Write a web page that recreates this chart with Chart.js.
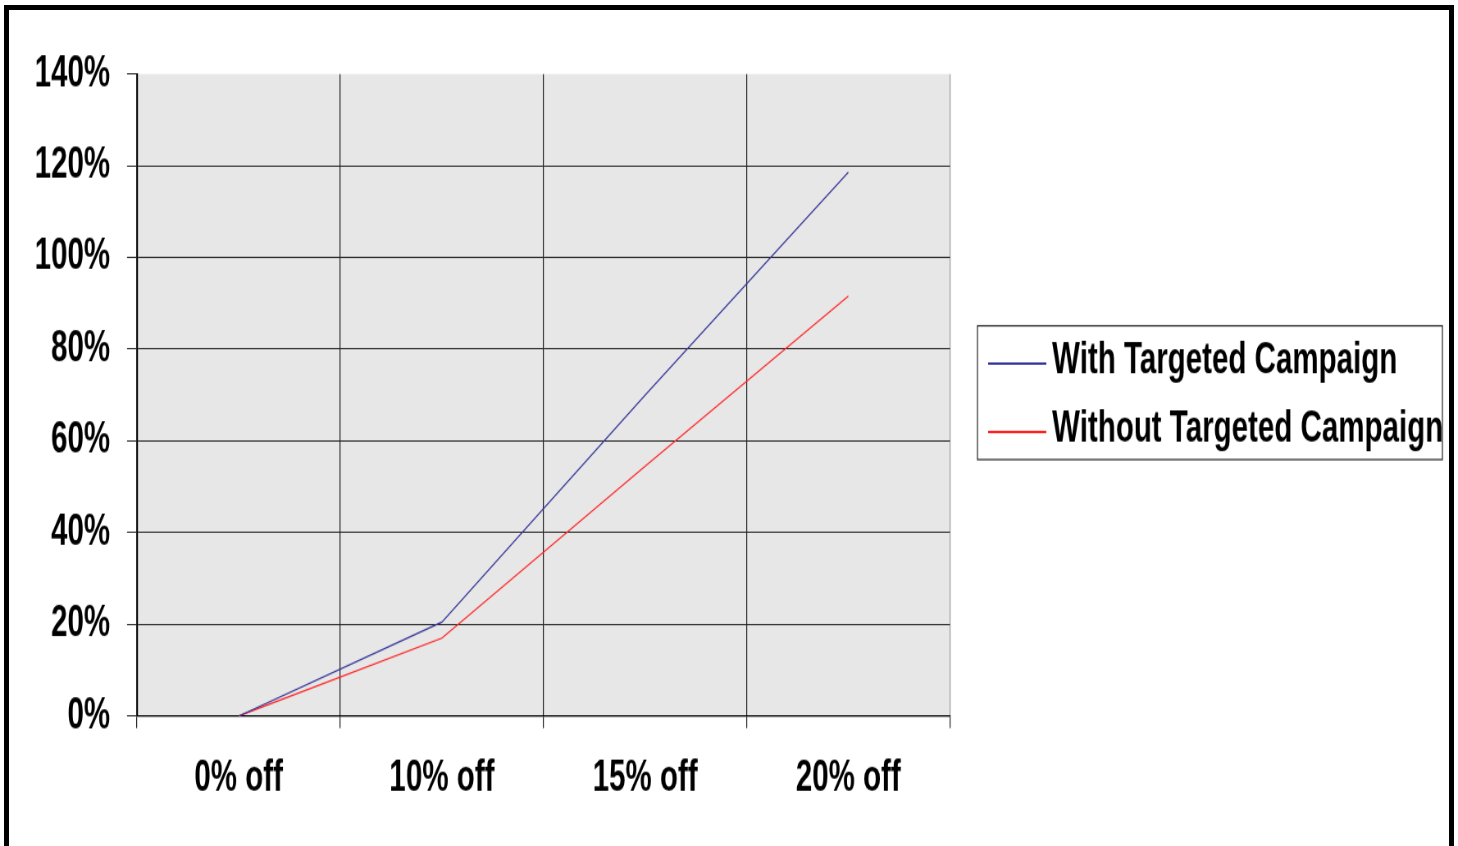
<!DOCTYPE html>
<html>
<head>
<meta charset="utf-8">
<script src="https://cdn.jsdelivr.net/npm/chart.js@4.4.0/dist/chart.umd.min.js"></script>
<style>
  html, body { margin: 0; padding: 0; background: #fff; overflow: hidden; }
  #frame {
    position: absolute; left: 4px; top: 5px; width: 1440px; height: 840px;
    border-left: 5px solid #000; border-top: 5px solid #000; border-right: 5px solid #000;
    border-bottom: 1px solid #555;
  }
  /* the original picture is a squeezed/stretched bitmap: draw on a wider, shorter canvas and scale it */
  #wrap {
    position: absolute; left: 0; top: 0; width: 1778px; height: 705px;
    transform: scale(0.82, 1.2); transform-origin: 0 0;
  }
</style>
</head>
<body>
<div id="wrap"><canvas id="chart" width="1778" height="705"></canvas></div>
<div id="frame"></div>
<script>
// data
const categories = ['0% off', '10% off', '15% off', '20% off'];
const withCampaign = [0, 20.5, 70, 118.6];
const withoutCampaign = [0, 17, 54.5, 91.6];
const seriesNames = ['With Targeted Campaign', 'Without Targeted Campaign'];
const yTicks = [0, 20, 40, 60, 80, 100, 120, 140];

const FONT = '"Liberation Sans", Arial, sans-serif';

// grey plot background
const plotBg = {
    id: 'plotBg',
    beforeDraw(chart) {
        const { ctx, chartArea: a } = chart;
        ctx.save();
        ctx.fillStyle = '#e7e7e7';
        ctx.fillRect(a.left, a.top, a.right - a.left, a.bottom - a.top);
        ctx.restore();
    }
};

// boxed legend on the right
const boxLegend = {
    id: 'boxLegend',
    afterDraw(chart) {
        const ctx = chart.ctx;
        ctx.save();
        ctx.strokeStyle = '#222';
        ctx.lineWidth = 1.2;
        ctx.strokeRect(1192, 271.5, 567, 111.5);
        ctx.font = 'bold 36px ' + FONT;
        ctx.textBaseline = 'middle';
        ctx.fillStyle = '#000';
        const rows = [301, 358];
        chart.data.datasets.forEach((ds, i) => {
            ctx.strokeStyle = ds.borderColor;
            ctx.lineWidth = 2;
            ctx.beginPath();
            ctx.moveTo(1205, rows[i] + 2);
            ctx.lineTo(1276, rows[i] + 2);
            ctx.stroke();
            ctx.fillText(ds.label, 1283, rows[i]);
        });
        ctx.restore();
    }
};

new Chart(document.getElementById('chart'), {
    type: 'line',
    data: {
        labels: categories,
        datasets: [{
            label: seriesNames[0],
            data: withCampaign,
            borderColor: '#333399',
            borderWidth: 1.2,
            pointRadius: 0,
            tension: 0
        }, {
            label: seriesNames[1],
            data: withoutCampaign,
            borderColor: '#ff2020',
            borderWidth: 1.2,
            pointRadius: 0,
            tension: 0
        }]
    },
    plugins: [plotBg, boxLegend],
    options: {
        responsive: false,
        animation: false,
        layout: { padding: { top: 61.7, right: 619.5, bottom: 0, left: 0 } },
        plugins: {
            legend: { display: false },
            tooltip: { enabled: false }
        },
        scales: {
            x: {
                offset: true,
                grid: {
                    offset: true,
                    lineWidth: 1.2,
                    color: c => c.type === 'scale' ? '#999' : '#222',
                    tickColor: '#222',
                    tickLength: 10
                },
                border: { color: '#000', width: 1.2 },
                ticks: {
                    color: '#000',
                    padding: 21,
                    maxRotation: 0,
                    font: { family: FONT, size: 36, weight: 'bold' }
                },
                afterFit: s => { s.height = 108.3; }
            },
            y: {
                min: 0,
                max: 140,
                afterBuildTicks: s => { s.ticks = yTicks.map(v => ({ value: v })); },
                grid: {
                    color: c => (c.tick && c.tick.value === 140) ? 'rgba(0,0,0,0)' : '#222',
                    tickColor: '#222',
                    tickLength: 12.2
                },
                border: { color: '#000', width: 1.2 },
                ticks: {
                    color: '#000',
                    padding: 20.7,
                    callback: v => v + '%',
                    font: { family: FONT, size: 36, weight: 'bold' }
                },
                afterFit: s => { s.width = 167.1; }
            }
        }
    }
});
</script>
</body>
</html>
